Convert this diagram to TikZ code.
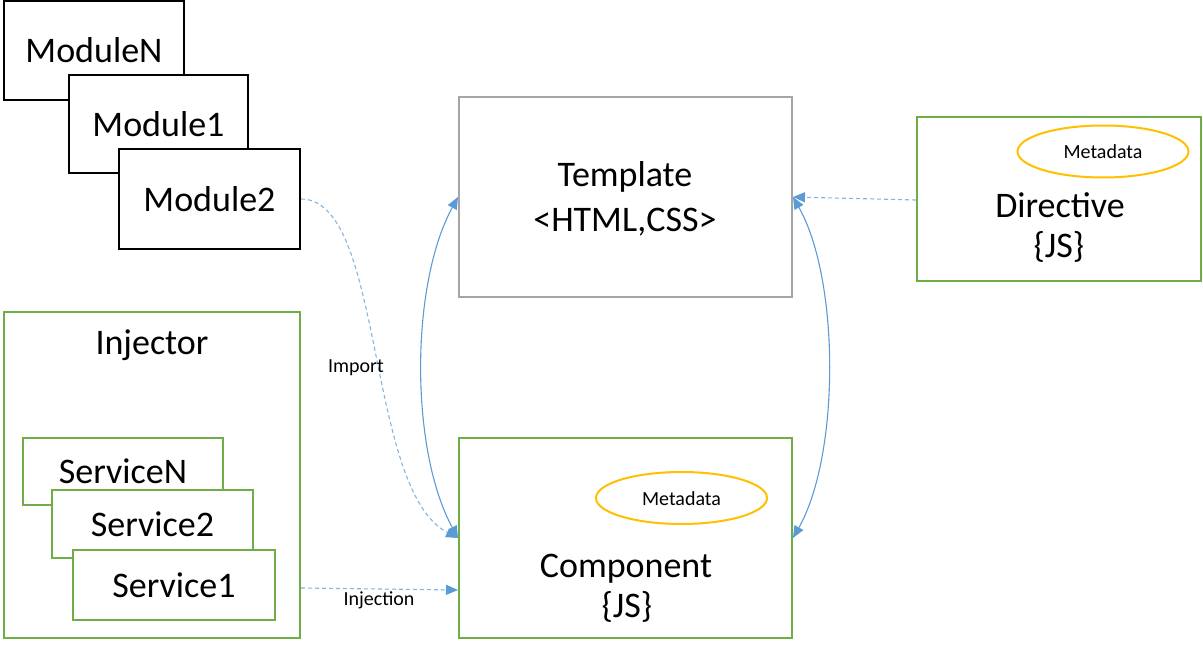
\documentclass[tikz,border=0pt]{standalone}
\usepackage{fontspec}
\setmainfont{Carlito}
\usetikzlibrary{arrows.meta,calc,shapes.geometric}
\definecolor{boxgreen}{HTML}{70AD47}
\definecolor{boxgray}{HTML}{A5A5A5}
\definecolor{metayellow}{HTML}{FFC000}
\definecolor{linkblue}{HTML}{5B9BD5}
\tikzset{
  big/.style={font=\fontsize{36}{45}\selectfont},
  small/.style={font=\fontsize{20}{24}\selectfont},
  blackbox/.style={draw=black,line width=2pt,fill=white,rectangle,inner sep=0pt,big},
  greenbox/.style={draw=boxgreen,line width=2pt,fill=white,rectangle,inner sep=0pt,big},
  graybox/.style={draw=boxgray,line width=2pt,fill=white,rectangle,inner sep=0pt},
  meta/.style={draw=metayellow,line width=2pt,ellipse,inner sep=0pt,small},
  txt/.style={inner sep=0pt,anchor=base,big},
  lbl/.style={inner sep=0pt,small},
  tip/.style={-{Triangle[length=12pt,width=10pt,color=linkblue]}},
  biarrow/.style={{Triangle[length=12pt,width=10pt]}-{Triangle[length=12pt,width=10pt]},draw=linkblue,line width=1.1pt},
  dasharrow/.style={tip,draw=linkblue!75,line width=1.1pt,dash pattern=on 4pt off 3pt}
}
\begin{document}
\begin{tikzpicture}[x=1pt,y=-1pt]
\useasboundingbox (0,0) rectangle (1203,655);
% modules
\node[blackbox,minimum width=180pt,minimum height=99pt] (modN) at (94,50.5) {ModuleN};
\node[blackbox,minimum width=179pt,minimum height=98pt] (mod1) at (158.5,124) {Module1};
\node[blackbox,minimum width=181pt,minimum height=100pt] (mod2) at (209.5,199) {Module2};
% template
\node[graybox,minimum width=333pt,minimum height=200pt] (tpl) at (625.5,197) {};
\node[txt] (tplA) at (625,187) {Template};
\node[txt] (tplB) at (625,232) {<HTML,CSS>};
% directive
\node[greenbox,minimum width=284pt,minimum height=164pt] (dir) at (1059,199) {};
\node[meta,minimum width=171pt,minimum height=52pt] (dmeta) at (1103,151.5) {};
\node[lbl] (dmetat) at (1103,152) {Metadata};
\node[txt] (dirA) at (1060,218) {Directive};
\node[txt] (dirB) at (1059,258) {\{JS\}};
% injector
\node[greenbox,minimum width=296pt,minimum height=326pt] (inj) at (152,475) {};
\node[txt] (injt) at (152,355) {Injector};
\node[greenbox,minimum width=200pt,minimum height=67pt] (srvN) at (123,471.5) {ServiceN};
\node[greenbox,minimum width=201pt,minimum height=68pt] (srv2) at (152.5,524) {Service2};
\node[greenbox,minimum width=202pt,minimum height=70pt] (srv1) at (174,585) {Service1};
% component
\node[greenbox,minimum width=333pt,minimum height=200pt] (comp) at (625.5,538) {};
\node[meta,minimum width=171pt,minimum height=52pt] (cmeta) at (681.5,498) {};
\node[lbl] (cmetat) at (681.5,499) {Metadata};
\node[txt] (compA) at (626,577) {Component};
\node[txt] (compB) at (627,617) {\{JS\}};
% connectors
\draw[dasharrow] (mod2.east) .. controls (385,199) and (365,490) .. (comp.west);
\node[lbl] (imp) at (356,368) {Import};
\draw[biarrow] (comp.west) .. controls (410,450) and (410,285) .. (tpl.west);
\draw[biarrow] (tpl.east) .. controls (840,280) and (840,455) .. (comp.east);
\draw[dasharrow] ([yshift=-1pt]dir.west) -- (tpl.east);
\coordinate (injout) at ([yshift=-113pt]inj.east);
\draw[dasharrow] (injout) -- ([yshift=-52pt]comp.west);
\node[lbl] (injlbl) at (379,600) {Injection};
\end{tikzpicture}
\end{document}
